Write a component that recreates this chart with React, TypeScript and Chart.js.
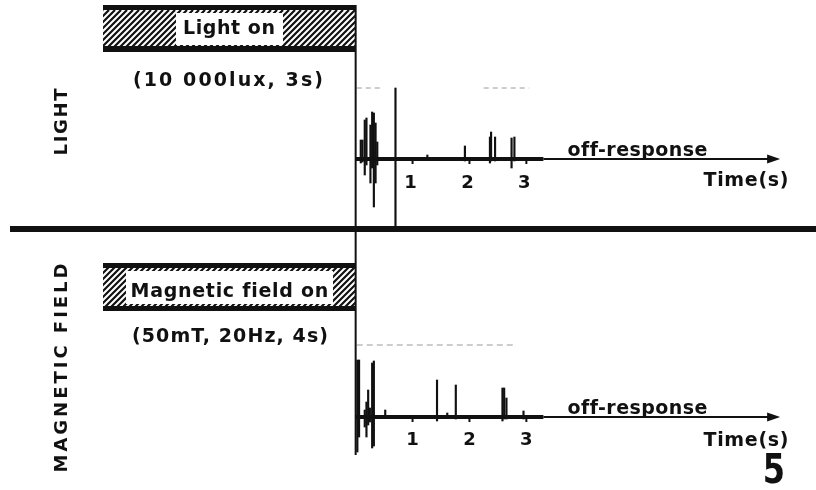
import { useEffect, useRef } from 'react';
import { Chart, registerables } from 'chart.js';

Chart.register(...registerables);

// ---- data (time in s, amplitude in arbitrary units) ----
const lightSpikeTimes = [0.09, 0.12, 0.16, 0.19, 0.26, 0.29, 0.32, 0.35, 0.38, 1.26, 1.92, 2.36, 2.38, 2.45, 2.74, 2.79];
const lightSpikeUp = [19, 19, 39, 41, 34, 47, 46, 36, 17, 4, 13, 22, 27, 22, 21, 22];
const lightSpikeDown = [4, 3, 16, 6, 24, 9, 48, 24, 6, 0, 2, 4, 2, 2, 9, 2];

const lightArtifactTime = [0.7];
const lightArtifactUp = [71];
const lightArtifactDown = [69];

const magSpikeTimes = [0.03, 0.06, 0.16, 0.19, 0.22, 0.25, 0.29, 0.32, 0.52, 1.43, 1.61, 1.76, 2.58, 2.61, 2.65, 2.95];
const magSpikeUp = [57, 57, 7, 15, 27, 9, 54, 56, 7, 37, 4, 32, 29, 29, 19, 6];
const magSpikeDown = [35, 20, 10, 20, 8, 5, 31, 29, 0, 4, 0, 2, 4, 2, 2, 2];

const baselineStart = 0;
const baselineBreak = 3.3;
const baselineEnd = 7.25;
const arrowTip = 7.46;

const tickValues = [1, 2, 3];
const tickLabels = ['1', '2', '3'];

const lightCalibSegments = [[0.02, 0.45], [2.25, 3.05]];
const lightCalibLevel = 71;
const magCalibSegments = [[0.02, 2.83]];
const magCalibLevel = 72;

const lightTitle = 'LIGHT';
const magTitle = 'MAGNETIC FIELD';
const lightBarLabel = 'Light on';
const lightParams = '(10 000lux, 3s)';
const magBarLabel = 'Magnetic field on';
const magParams = '(50mT, 20Hz, 4s)';
const offLabel = 'off-response';
const timeLabel = 'Time(s)';
const figureNumber = '5';

const INK = '#111111';
const FONT = '"DejaVu Sans", "Liberation Sans", Arial, sans-serif';

function spikes(times: number[], up: number[], down: number[]) {
  return times.map((t, i) => ({ x: t, y: [-down[i], up[i]] }));
}

function segmentsData(segs: number[][], level: number) {
  const out: any[] = [];
  segs.forEach((s, i) => {
    if (i > 0) out.push({ x: (segs[i - 1][1] + s[0]) / 2, y: null });
    out.push({ x: s[0], y: level });
    out.push({ x: s[1], y: level });
  });
  return out;
}

function fitText(ctx: CanvasRenderingContext2D, text: string, cx: number, cy: number, targetW: number, font: string) {
  ctx.save();
  ctx.font = font;
  (ctx as any).letterSpacing = '0px';
  const w = ctx.measureText(text).width;
  const n = text.length;
  const sp = n > 1 ? (targetW - w) / (n - 1) : 0;
  ctx.textBaseline = 'middle';
  ctx.textAlign = 'left';
  if (sp >= 0) {
    (ctx as any).letterSpacing = sp + 'px';
    ctx.fillText(text, cx - targetW / 2, cy);
  } else {
    ctx.translate(cx - targetW / 2, cy);
    ctx.scale(targetW / w, 1);
    ctx.fillText(text, 0, 0);
  }
  ctx.restore();
}

function hatch(ctx: CanvasRenderingContext2D, x0: number, y0: number, x1: number, y1: number) {
  ctx.save();
  ctx.beginPath();
  ctx.rect(x0, y0, x1 - x0, y1 - y0);
  ctx.clip();
  ctx.strokeStyle = INK;
  ctx.lineWidth = 2.2;
  const h = y1 - y0;
  ctx.beginPath();
  for (let k = x0 - h; k < x1 + 6; k += 6) {
    ctx.moveTo(k, y1);
    ctx.lineTo(k + h, y0);
  }
  ctx.stroke();
  ctx.restore();
}

const overlayPlugin = {
  id: 'overlay',
  afterDatasetsDraw(chart: any) {
    const ctx: CanvasRenderingContext2D = chart.ctx;
    const xs = chart.scales.x;
    const yL = chart.scales.yL;
    const yM = chart.scales.yM;
    const x0 = xs.getPixelForValue(0);
    const bL = yL.getPixelForValue(0);
    const bM = yM.getPixelForValue(0);
    ctx.save();
    ctx.fillStyle = INK;
    ctx.strokeStyle = INK;

    const barLeft = 103;
    // light stimulus bar
    hatch(ctx, barLeft, 10, x0, 47);
    ctx.fillRect(barLeft, 5, x0 - barLeft, 5);
    ctx.fillRect(barLeft, 46, x0 - barLeft, 6);
    ctx.fillStyle = '#ffffff';
    ctx.fillRect(176, 13, 107, 32);
    ctx.fillStyle = INK;
    fitText(ctx, lightBarLabel, 229, 29, 92, 'bold 19px ' + FONT);
    fitText(ctx, lightParams, 228, 81, 190, 'bold 19px ' + FONT);
    // magnetic stimulus bar
    hatch(ctx, barLeft, 267, x0, 307);
    ctx.fillRect(barLeft, 263, x0 - barLeft, 5);
    ctx.fillRect(barLeft, 306, x0 - barLeft, 5);
    ctx.fillStyle = '#ffffff';
    ctx.fillRect(126, 271, 207, 33);
    ctx.fillStyle = INK;
    fitText(ctx, magBarLabel, 229, 292, 197, 'bold 19px ' + FONT);
    fitText(ctx, magParams, 230, 337, 196, 'bold 19px ' + FONT);

    // stimulus-off vertical line
    ctx.lineWidth = 2;
    ctx.beginPath();
    ctx.moveTo(x0, 5);
    ctx.lineTo(x0, 455);
    ctx.stroke();

    // separator
    ctx.fillRect(10, 226, 806, 6);

    // arrow heads
    const tip = xs.getPixelForValue(arrowTip);
    [bL, bM].forEach((b) => {
      ctx.beginPath();
      ctx.moveTo(tip, b);
      ctx.lineTo(tip - 13, b - 4.5);
      ctx.lineTo(tip - 13, b + 4.5);
      ctx.closePath();
      ctx.fill();
    });

    // ticks and labels
    ctx.lineWidth = 2;
    tickValues.forEach((v, i) => {
      const px = xs.getPixelForValue(v);
      [bL, bM].forEach((b) => {
        ctx.beginPath();
        ctx.moveTo(px, b);
        ctx.lineTo(px, b + 5);
        ctx.stroke();
      });
      ctx.font = 'bold 18px ' + FONT;
      ctx.textAlign = 'center';
      ctx.textBaseline = 'middle';
      ctx.fillText(tickLabels[i], px - 2, bL + 24);
      ctx.fillText(tickLabels[i], px, bM + 23);
    });

    // axis annotations
    fitText(ctx, offLabel, 637, bL - 8, 139, 'bold 19px ' + FONT);
    fitText(ctx, offLabel, 637, bM - 8, 139, 'bold 19px ' + FONT);
    fitText(ctx, timeLabel, 746, bL + 22, 85, 'bold 19px ' + FONT);
    fitText(ctx, timeLabel, 746, bM + 24, 85, 'bold 19px ' + FONT);

    // panel titles (rotated)
    [[lightTitle, 122, 67], [magTitle, 368, 209]].forEach(([t, cy, w]: any) => {
      ctx.save();
      ctx.translate(62, cy);
      ctx.rotate(-Math.PI / 2);
      fitText(ctx, t, 0, 0, w, 'bold 18px ' + FONT);
      ctx.restore();
    });

    // figure number
    ctx.save();
    ctx.translate(774, 472);
    ctx.scale(0.8, 1);
    ctx.font = 'bold 40px ' + FONT;
    ctx.textAlign = 'center';
    ctx.textBaseline = 'middle';
    ctx.fillText(figureNumber, 0, 1);
    ctx.restore();

    ctx.restore();
  },
};

export default function App() {
  const ref = useRef<HTMLCanvasElement | null>(null);
  useEffect(() => {
    if (!ref.current) return;
    const lineBase = { type: 'line' as const, pointRadius: 0, borderColor: INK, fill: false, tension: 0 };
    const chart = new Chart(ref.current, {
      type: 'bar',
      data: {
        datasets: [
          { ...lineBase, yAxisID: 'yL', borderWidth: 4, data: [{ x: baselineStart, y: 0 }, { x: baselineBreak, y: 0 }] },
          { ...lineBase, yAxisID: 'yL', borderWidth: 2, data: [{ x: baselineBreak, y: 0 }, { x: baselineEnd, y: 0 }] },
          { ...lineBase, yAxisID: 'yM', borderWidth: 4, data: [{ x: baselineStart, y: 0 }, { x: baselineBreak, y: 0 }] },
          { ...lineBase, yAxisID: 'yM', borderWidth: 2, data: [{ x: baselineBreak, y: 0 }, { x: baselineEnd, y: 0 }] },
          { ...lineBase, yAxisID: 'yL', borderWidth: 1, borderColor: '#9a9a9a', borderDash: [5, 4], spanGaps: false, data: segmentsData(lightCalibSegments, lightCalibLevel) },
          { ...lineBase, yAxisID: 'yM', borderWidth: 1, borderColor: '#9a9a9a', borderDash: [6, 4], spanGaps: false, data: segmentsData(magCalibSegments, magCalibLevel) },
          { type: 'bar', yAxisID: 'yL', backgroundColor: INK, barThickness: 1.5, grouped: false, data: spikes(lightSpikeTimes, lightSpikeUp, lightSpikeDown) as any },
          { type: 'bar', yAxisID: 'yL', backgroundColor: INK, barThickness: 1.5, grouped: false, data: spikes(lightArtifactTime, lightArtifactUp, lightArtifactDown) as any },
          { type: 'bar', yAxisID: 'yM', backgroundColor: INK, barThickness: 1.5, grouped: false, data: spikes(magSpikeTimes, magSpikeUp, magSpikeDown) as any },
        ] as any,
      },
      options: {
        animation: false,
        responsive: false,
        events: [],
        layout: { padding: 0 },
        plugins: { legend: { display: false }, tooltip: { enabled: false } },
        scales: {
          x: { type: 'linear', min: -6.25, max: 8.09, offset: false, display: false },
          yL: { type: 'linear', min: -331, max: 159, display: false },
          yM: { type: 'linear', min: -73, max: 417, display: false },
        },
      } as any,
      plugins: [overlayPlugin],
    });
    return () => chart.destroy();
  }, []);
  return (
    <div style={{ position: 'absolute', left: 0, top: 0, width: 816, height: 490, background: '#fff' }}>
      <canvas ref={ref} width={816} height={490} style={{ width: 816, height: 490, display: 'block' }} />
    </div>
  );
}
